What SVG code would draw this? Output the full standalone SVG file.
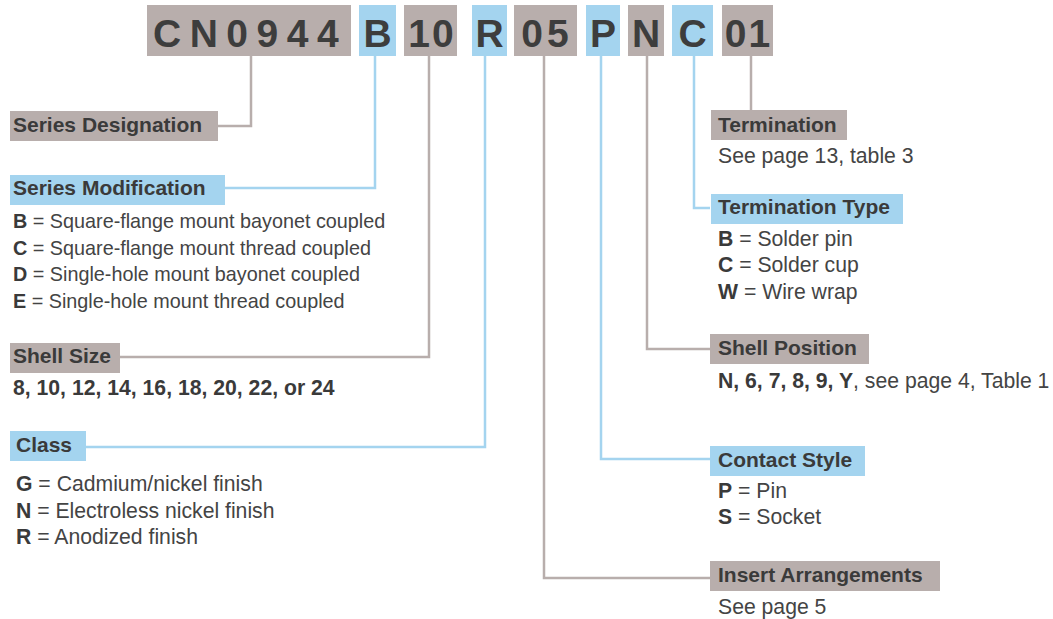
<svg xmlns="http://www.w3.org/2000/svg" width="1053" height="619" viewBox="0 0 1053 619">
<style>
.g{fill:#b8aeac}
.b{fill:#a4d4ef}
.code{font-family:"Liberation Sans",Arial,sans-serif;font-weight:bold;font-size:39px;fill:#3d3d3d;text-anchor:middle}
.h{font-family:"Liberation Sans",Arial,sans-serif;font-weight:bold;font-size:21px;fill:#3a3a3a}
.t{font-family:"Liberation Sans",Arial,sans-serif;font-size:21.2px;fill:#444444}
.sm{font-size:19.8px}
.t tspan.k{font-weight:bold;fill:#3a3a3a}
.lg{fill:none;stroke:#b8aeac;stroke-width:2.5}
.lb{fill:none;stroke:#a4d4ef;stroke-width:2.5}
</style>
<rect width="1053" height="619" fill="#ffffff"/>
<g id="connectors">
<path class="lg" d="M251,56 V126 H218"/>
<path class="lb" d="M375,56 V188 H225"/>
<path class="lg" d="M429,56 V357 H120"/>
<path class="lb" d="M485,56 V447 H86"/>
<path class="lg" d="M544,56 V578 H710"/>
<path class="lb" d="M601,56 V459 H710"/>
<path class="lg" d="M647,56 V349 H710"/>
<path class="lb" d="M694,56 V208 H710"/>
<path class="lg" d="M751,56 V110"/>
</g>
<g id="code">
<g id="code-cn0944"><rect class="g" x="147" y="5" width="204" height="51"/><text class="code" x="153" y="47" style="text-anchor:start;letter-spacing:8.5px">CN0944</text></g>
<g id="code-b"><rect class="b" x="359" y="5" width="37" height="51"/><text class="code" x="377.5" y="47">B</text></g>
<g id="code-10"><rect class="g" x="404" y="5" width="53" height="51"/><text class="code" x="432" y="47" style="letter-spacing:2px">10</text></g>
<g id="code-r"><rect class="b" x="472" y="5" width="35" height="51"/><text class="code" x="489.5" y="47">R</text></g>
<g id="code-05"><rect class="g" x="514" y="5" width="63" height="51"/><text class="code" x="547" y="47" style="letter-spacing:4px">05</text></g>
<g id="code-p"><rect class="b" x="586" y="5" width="34" height="51"/><text class="code" x="603" y="47">P</text></g>
<g id="code-n"><rect class="g" x="628" y="5" width="36" height="51"/><text class="code" x="646" y="47">N</text></g>
<g id="code-c"><rect class="b" x="672" y="5" width="41" height="51"/><text class="code" x="692.5" y="47">C</text></g>
<g id="code-01"><rect class="g" x="722" y="5" width="51" height="51"/><text class="code" x="748.5" y="47" style="letter-spacing:2px">01</text></g>
</g>
<g id="series-designation"><rect class="g" x="10" y="111" width="208" height="30"/><text class="h" x="13" y="132">Series Designation</text></g>
<g id="series-modification"><rect class="b" x="10" y="175" width="215" height="30"/><text class="h" x="13" y="195">Series Modification</text>
<text class="t sm" x="13" y="228"><tspan class="k">B</tspan> = Square-flange mount bayonet coupled</text>
<text class="t sm" x="13" y="255"><tspan class="k">C</tspan> = Square-flange mount thread coupled</text>
<text class="t sm" x="13" y="281"><tspan class="k">D</tspan> = Single-hole mount bayonet coupled</text>
<text class="t sm" x="13" y="308"><tspan class="k">E</tspan> = Single-hole mount thread coupled</text></g>
<g id="shell-size"><rect class="g" x="10" y="343" width="110" height="30"/><text class="h" x="13" y="363">Shell Size</text>
<text class="t" x="13" y="395" style="font-weight:bold;fill:#3a3a3a">8, 10, 12, 14, 16, 18, 20, 22, or 24</text></g>
<g id="class"><rect class="b" x="10" y="431" width="76" height="30"/><text class="h" x="16" y="452">Class</text>
<text class="t" x="16" y="491"><tspan class="k">G</tspan> = Cadmium/nickel finish</text>
<text class="t" x="16" y="518"><tspan class="k">N</tspan> = Electroless nickel finish</text>
<text class="t" x="16" y="544"><tspan class="k">R</tspan> = Anodized finish</text></g>
<g id="termination"><rect class="g" x="711" y="110" width="136" height="30"/><text class="h" x="718" y="132">Termination</text>
<text class="t" x="718" y="163">See page 13, table 3</text></g>
<g id="termination-type"><rect class="b" x="711" y="194" width="192" height="30"/><text class="h" x="718" y="214">Termination Type</text>
<text class="t" x="718" y="246"><tspan class="k">B</tspan> = Solder pin</text>
<text class="t" x="718" y="272"><tspan class="k">C</tspan> = Solder cup</text>
<text class="t" x="718" y="299"><tspan class="k">W</tspan> = Wire wrap</text></g>
<g id="shell-position"><rect class="g" x="710" y="334" width="159" height="30"/><text class="h" x="718" y="355">Shell Position</text>
<text class="t" x="718" y="388"><tspan class="k">N, 6, 7, 8, 9, Y</tspan>, see page 4, Table 1</text></g>
<g id="contact-style"><rect class="b" x="710" y="446" width="155" height="30"/><text class="h" x="718" y="467">Contact Style</text>
<text class="t" x="718" y="498"><tspan class="k">P</tspan> = Pin</text>
<text class="t" x="718" y="524"><tspan class="k">S</tspan> = Socket</text></g>
<g id="insert-arrangements"><rect class="g" x="710" y="561" width="230" height="30"/><text class="h" x="718" y="582">Insert Arrangements</text>
<text class="t" x="718" y="614">See page 5</text></g>
</svg>
